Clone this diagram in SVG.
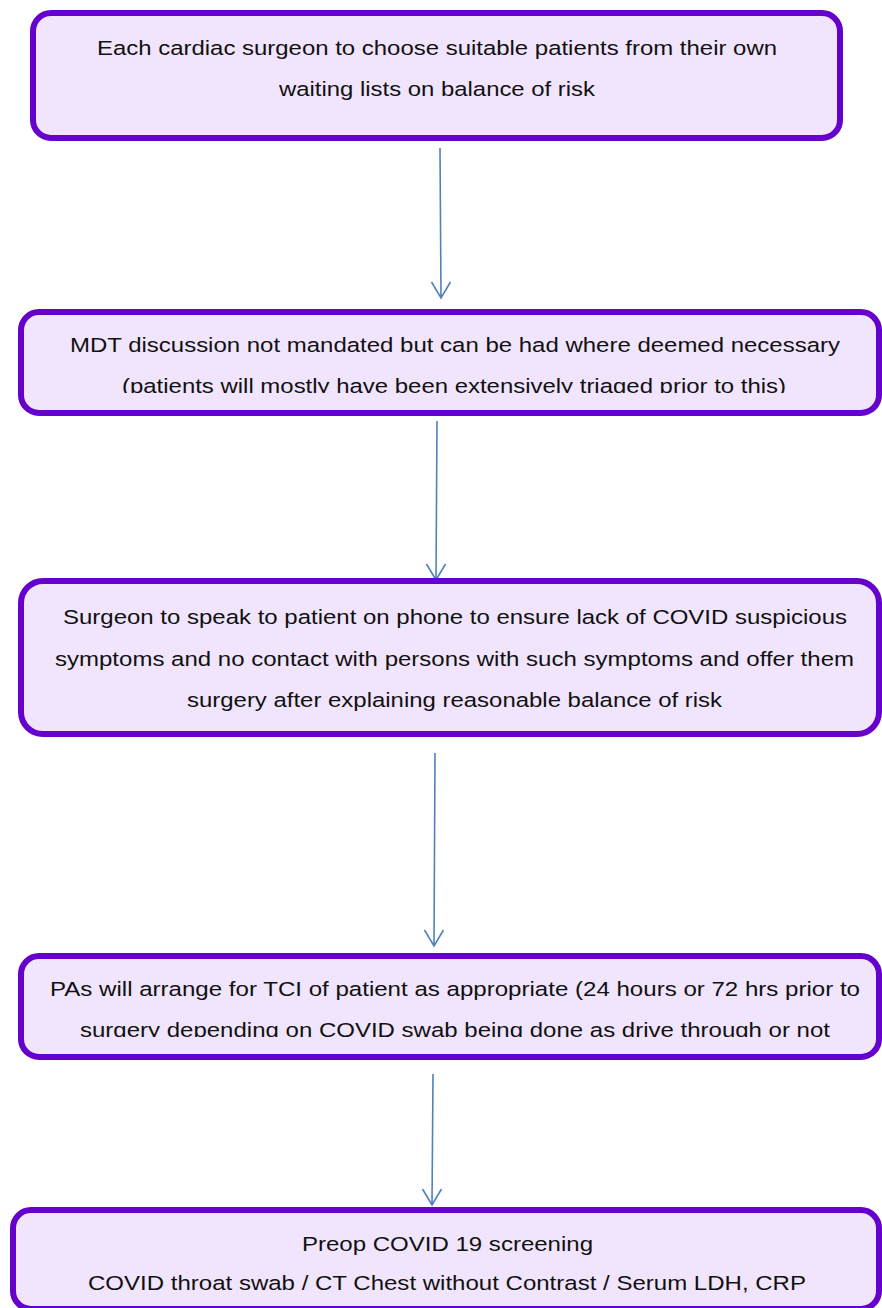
<svg xmlns="http://www.w3.org/2000/svg" width="882" height="1308" viewBox="0 0 882 1308">
<style>
.box{fill:#F1E5FD;stroke:#6600CC;stroke-width:6}
.t{font-family:"Liberation Sans",Arial,sans-serif;font-size:20.5px;fill:#111;text-anchor:middle}
.c{stroke:#4F81BD;stroke-width:1.6;fill:none}
</style>
<defs>
<clipPath id="cl2"><rect x="0" y="312" width="882" height="81"/></clipPath>
<clipPath id="cl4"><rect x="0" y="956" width="882" height="81"/></clipPath>
</defs>
<rect width="882" height="1308" fill="#fff"/>
<g id="connectors">
<path class="c" d="M440,148 L441,298 M431.5,282 L441,298 L450.5,282"/>
<path class="c" d="M437,421 L436,580 M426.5,564 L436,580 L445.5,564"/>
<path class="c" d="M435,753 L434,946 M424.5,930 L434,946 L443.5,930"/>
<path class="c" d="M433,1074 L432,1205 M422.5,1189 L432,1205 L441.5,1189"/>
</g>
<g id="n1">
<rect class="box" x="33" y="13" width="807" height="125" rx="18"/>
<text class="t" x="437" y="55" textLength="680" lengthAdjust="spacingAndGlyphs">Each cardiac surgeon to choose suitable patients from their own</text>
<text class="t" x="437" y="96" textLength="316" lengthAdjust="spacingAndGlyphs">waiting lists on balance of risk</text>
</g>
<g id="n2">
<rect class="box" x="21" y="312" width="858" height="101" rx="18"/>
<g clip-path="url(#cl2)">
<text class="t" x="455" y="352" textLength="770" lengthAdjust="spacingAndGlyphs">MDT discussion not mandated but can be had where deemed necessary</text>
<text class="t" x="454" y="393" textLength="664" lengthAdjust="spacingAndGlyphs">(patients will mostly have been extensively triaged prior to this)</text>
</g>
</g>
<g id="n3">
<rect class="box" x="21" y="581" width="858" height="153" rx="22"/>
<text class="t" x="455" y="624" textLength="784" lengthAdjust="spacingAndGlyphs">Surgeon to speak to patient on phone to ensure lack of COVID suspicious</text>
<text class="t" x="454.5" y="666" textLength="799" lengthAdjust="spacingAndGlyphs">symptoms and no contact with persons with such symptoms and offer them</text>
<text class="t" x="454.5" y="707" textLength="535" lengthAdjust="spacingAndGlyphs">surgery after explaining reasonable balance of risk</text>
</g>
<g id="n4">
<rect class="box" x="21" y="956" width="858" height="101" rx="18"/>
<g clip-path="url(#cl4)">
<text class="t" x="455" y="996" textLength="810" lengthAdjust="spacingAndGlyphs">PAs will arrange for TCI of patient as appropriate (24 hours or 72 hrs prior to</text>
<text class="t" x="455" y="1037" textLength="750" lengthAdjust="spacingAndGlyphs">surgery depending on COVID swab being done as drive through or not</text>
</g>
</g>
<g id="n5">
<rect class="box" x="13" y="1210" width="866" height="99" rx="18"/>
<text class="t" x="447.5" y="1251" textLength="291" lengthAdjust="spacingAndGlyphs">Preop COVID 19 screening</text>
<text class="t" x="447" y="1290" textLength="718" lengthAdjust="spacingAndGlyphs">COVID throat swab / CT Chest without Contrast / Serum LDH, CRP</text>
</g>
</svg>
